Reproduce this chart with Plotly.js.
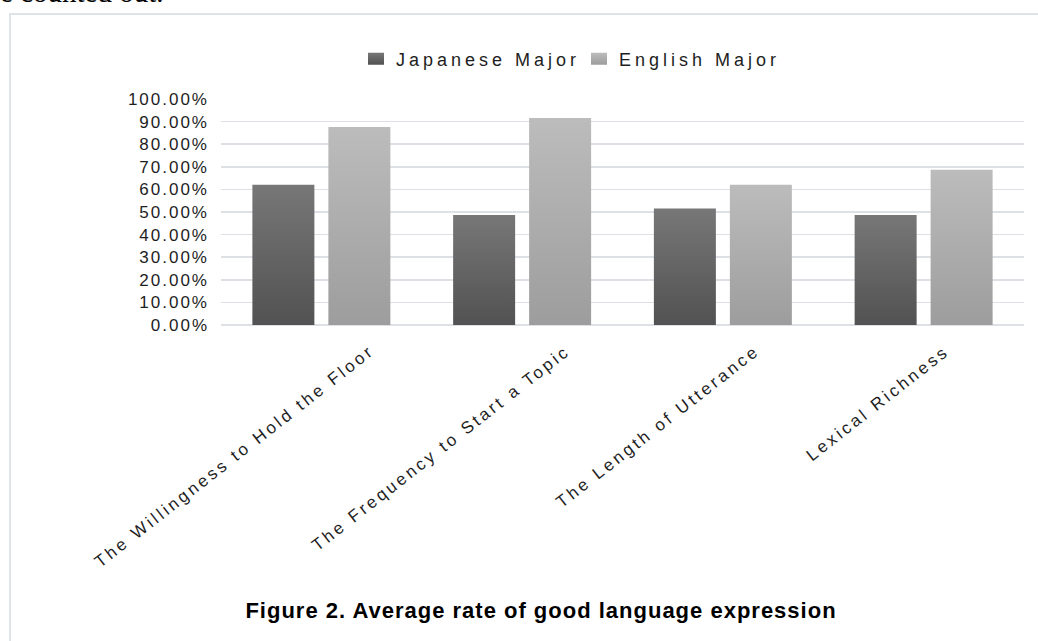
<!DOCTYPE html>
<html>
<head>
<meta charset="utf-8">
<script src="https://cdn.plot.ly/plotly-3.0.1.min.js"></script>
<style>
  html, body { margin:0; padding:0; width:1038px; height:641px; overflow:hidden; background:#ffffff; }
  #frame { position:absolute; left:9px; top:13px; width:1200px; height:800px;
           border-left:2px solid #dfe3e8; border-top:2px solid #dfe3e8; }
  #toptext { position:absolute; left:0px; top:-22px; font-family:"Liberation Serif", serif;
             font-size:29px; line-height:29px; color:#000; white-space:nowrap; }
  #chart { position:absolute; left:0; top:0; width:1038px; height:641px; }
  .legendtext { letter-spacing:4px; }
  g.ytick text { letter-spacing:2px; }
  .annotation-text { letter-spacing:3px; }
  .gtitle { letter-spacing:1px; }
</style>
</head>
<body>
<div id="frame"></div>
<div id="toptext">e counted out.</div>
<div id="chart"></div>
<script>
// ---- data ----
const categories = [
  "The Willingness to Hold the Floor",
  "The Frequency to Start a Topic",
  "The Length of Utterance",
  "Lexical Richness"
];
const seriesNames = ["Japanese Major", "English Major"];
const japaneseMajor = [0.621, 0.487, 0.515, 0.487];
const englishMajor  = [0.876, 0.916, 0.621, 0.687];
const captionText = "Figure 2. Average rate of good language expression";

// ---- styles ----
const gradients = {
  gradJ: ["#777777", "#525252"],
  gradE: ["#bcbcbc", "#9d9d9d"]
};
const tickFont = { family: "Liberation Sans, Arial, sans-serif", size: 17, color: "#1e1e1e" };

const traces = [
  { type: "bar", name: seriesNames[0], x: categories, y: japaneseMajor,
    marker: { color: "#646464" }, hoverinfo: "skip" },
  { type: "bar", name: seriesNames[1], x: categories, y: englishMajor,
    marker: { color: "#acacac" }, hoverinfo: "skip" }
];

// category tick labels, drawn as rotated annotations at each category's index
const annotations = categories.map((c, i) => ({
  text: c, x: i, xref: "x", y: 0, yref: "paper",
  xanchor: "right", yanchor: "top", textangle: -38,
  xshift: Math.round(1.6 * c.length + 6), yshift: -14,
  showarrow: false, font: tickFont
}));

const layout = {
  width: 1038, height: 641,
  margin: { l: 221, r: 14, t: 99, b: 316, pad: 0 },
  paper_bgcolor: "rgba(0,0,0,0)", plot_bgcolor: "rgba(0,0,0,0)",
  barmode: "group", bargap: 0.243, bargroupgap: 0.184,
  showlegend: true,
  legend: {
    orientation: "h", xref: "container", yref: "container",
    x: 356 / 1038, xanchor: "left", y: 1 - 59 / 641, yanchor: "middle",
    entrywidth: 178, entrywidthmode: "pixels",
    font: { family: "Liberation Sans, Arial, sans-serif", size: 18, color: "#1e1e1e" },
    bgcolor: "rgba(0,0,0,0)", traceorder: "normal"
  },
  title: {
    text: "<b>" + captionText + "</b>",
    xref: "container", yref: "container", x: 541 / 1038, xanchor: "center",
    y: 1 - 610 / 641, yanchor: "middle",
    font: { family: "Liberation Sans, Arial, sans-serif", size: 22, color: "#000000" }
  },
  xaxis: { type: "category", categoryorder: "array", categoryarray: categories,
           range: [-0.5, categories.length - 0.5],
           showticklabels: false, ticks: "", showgrid: false,
           showline: false, zeroline: false, fixedrange: true },
  yaxis: { range: [0, 1], dtick: 0.1, tick0: 0, tickformat: ".2%", ticks: "",
           showgrid: true, gridcolor: "#dde1e6", gridwidth: 1.5,
           zeroline: true, zerolinecolor: "#dde1e6", zerolinewidth: 1.5,
           showline: false, tickfont: tickFont, ticklabelstandoff: 11, fixedrange: true },
  annotations: annotations
};

Plotly.newPlot("chart", traces, layout, { displayModeBar: false, staticPlot: true }).then(gd => {
  const svg = gd.querySelector("svg.main-svg");
  const ns = "http://www.w3.org/2000/svg";
  let defs = svg.querySelector("defs");
  if (!defs) { defs = document.createElementNS(ns, "defs"); svg.insertBefore(defs, svg.firstChild); }
  Object.keys(gradients).forEach(id => {
    const lg = document.createElementNS(ns, "linearGradient");
    lg.setAttribute("id", id);
    lg.setAttribute("x1", "0"); lg.setAttribute("y1", "0");
    lg.setAttribute("x2", "0"); lg.setAttribute("y2", "1");
    gradients[id].forEach((col, i) => {
      const st = document.createElementNS(ns, "stop");
      st.setAttribute("offset", i === 0 ? "0" : "1");
      st.setAttribute("stop-color", col);
      lg.appendChild(st);
    });
    defs.appendChild(lg);
  });
  const ids = ["gradJ", "gradE"];
  gd.querySelectorAll(".barlayer .trace.bars").forEach((t, i) => {
    t.querySelectorAll(".point path").forEach(p => { p.style.fill = "url(#" + ids[i] + ")"; });
  });
  gd.querySelectorAll(".legend .traces").forEach((t, i) => {
    t.querySelectorAll(".legendpoints path").forEach(p => {
      p.setAttribute("d", "M8,6H-8V-6H8Z");
      p.style.fill = "url(#" + ids[i] + ")"; p.style.stroke = "none";
    });
  });
});
</script>
</body>
</html>
